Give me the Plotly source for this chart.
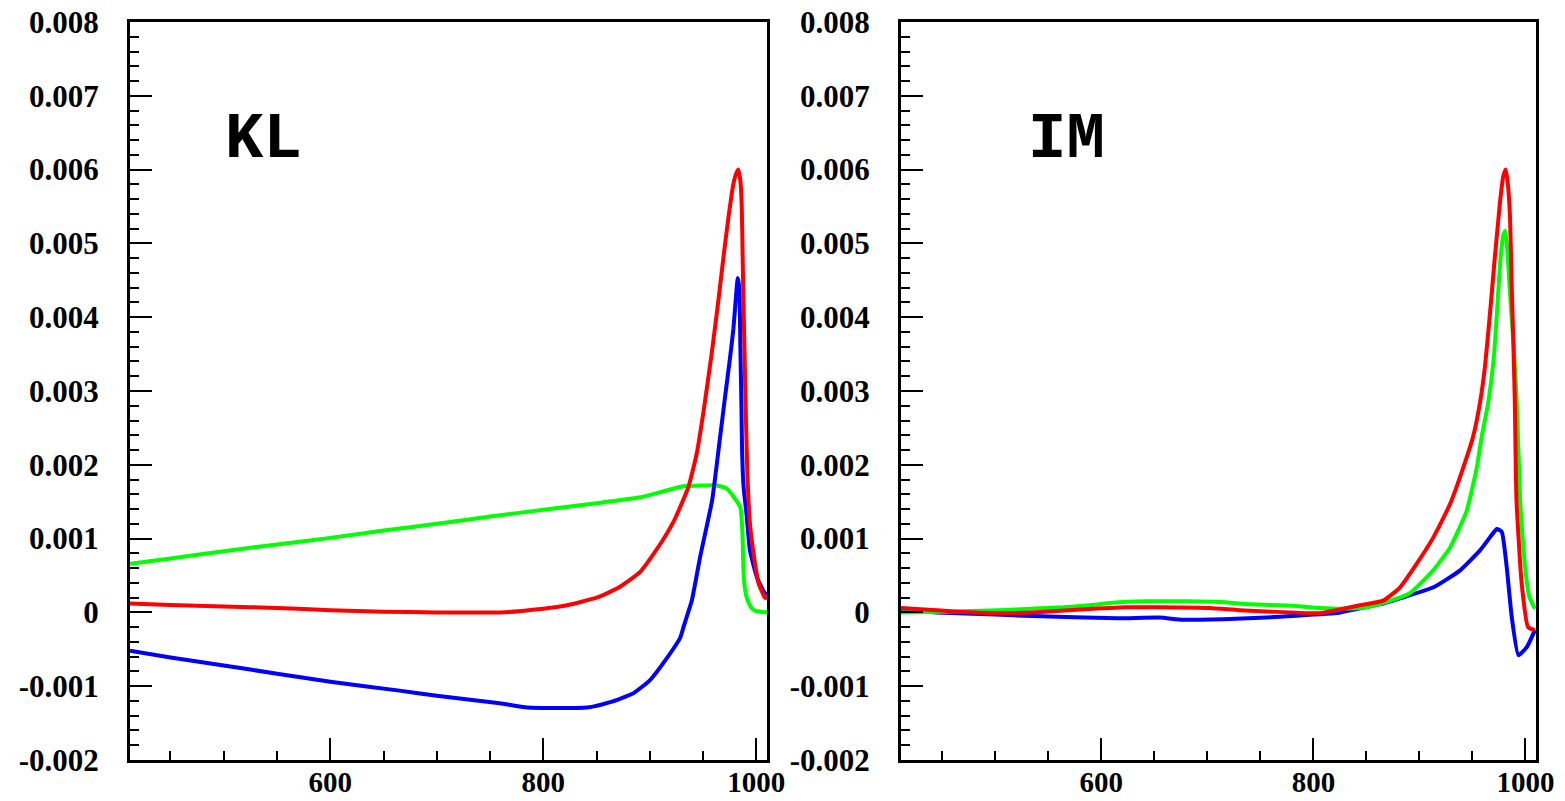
import plotly.graph_objects as go

# ---------------- data: KL panel ----------------
kl_green_x = [412, 450, 500, 550, 600, 650, 700, 750, 800, 850, 891, 910, 931, 950, 963, 972, 979, 985,
              986.5, 987.3, 987.8, 989, 991, 995, 999, 1004, 1010]
kl_green_y = [0.00066, 0.00073, 0.00083, 0.00092, 0.00101, 0.00111, 0.00120, 0.00130, 0.00139, 0.00148,
              0.00156, 0.00163, 0.00171, 0.00172, 0.00172, 0.00168, 0.00156, 0.00142,
              0.00120, 0.00090, 0.00060, 0.00035, 0.00020, 0.00007, 0.00002, 0.00001, 0.0]

kl_red_x = [412, 450, 500, 550, 600, 650, 700, 760, 780, 800, 820, 850, 870, 891, 910, 923, 936, 944, 951,
            958, 964.4, 969.1, 973.8, 978.5, 981.5, 983.2, 985, 986.3, 987.2, 987.9, 989.5, 991.4, 994,
            997, 1002, 1008, 1010]
kl_red_y = [0.00012, 0.00010, 0.00008, 0.00006, 0.00003, 0.00001, 0.0, 0.0, 0.00002, 0.00005, 0.00009,
            0.00020, 0.00033, 0.00055, 0.00093, 0.00125, 0.00169, 0.00215, 0.00278,
            0.00350, 0.00423, 0.00481, 0.00535, 0.00581, 0.00596, 0.00600, 0.00585, 0.00550, 0.00477,
            0.00423, 0.00310, 0.00196, 0.00120, 0.00084, 0.00040, 0.00020, 0.00019]

kl_blue_x = [412, 450, 500, 550, 600, 665, 700, 759, 785, 841, 862, 884, 900, 915, 928.6, 932, 939.4,
             947.2, 958.5, 966, 970.7, 975.4, 978.5, 981, 982.5, 984, 985, 986, 986.6, 988, 991, 994,
             1000.7, 1008, 1010]
kl_blue_y = [-0.00052, -0.00061, -0.00072, -0.00083, -0.00094, -0.00106, -0.00113, -0.00123, -0.00129,
             -0.00129, -0.00122, -0.00110, -0.00092, -0.00064, -0.00034, -0.00018, 0.00016,
             0.00075, 0.00152, 0.00238, 0.00293, 0.00346, 0.00385, 0.00430, 0.00453, 0.00440, 0.00360,
             0.00280, 0.00220, 0.00170, 0.00130, 0.00084, 0.00047, 0.00026, 0.00025]

# ---------------- data: IM panel ----------------
im_green_x = [411, 450, 504, 533, 564, 591, 610, 643, 680, 712, 740, 780, 806, 825, 850, 866, 891, 913,
              929, 944.7, 954.2, 959, 965, 970.2, 973.3, 976.4, 979, 981, 983, 986, 989, 992, 995,
              999.7, 1004, 1009]
im_green_y = [0.0, 0.00001, 0.00003, 0.00005, 0.00007, 0.00010, 0.00013, 0.00015, 0.00015, 0.00014,
              0.00011, 0.00009, 0.00006, 0.00005, 0.00007, 0.00013, 0.00026, 0.00057,
              0.00088, 0.00138, 0.00197, 0.00240, 0.00285, 0.00346, 0.00409, 0.00477, 0.00510, 0.00517,
              0.00490, 0.00420, 0.00360, 0.00280, 0.00152, 0.00061, 0.00020, 0.00005]

im_red_x = [411, 433, 464, 500, 535, 580, 624, 655, 702, 730, 760, 806, 825, 845, 866, 881.8, 897.5, 913.3,
            929, 944.6, 951, 957.5, 962, 966.6, 971.3, 976, 979, 981.4, 983.5, 985.5, 987, 988.4, 990,
            991.6, 996.5, 1002.5, 1009]
im_red_y = [0.00006, 0.00004, 0.00001, -0.00001, 0.0, 0.00004, 0.00007, 0.00007, 0.00006, 0.00003,
            0.00001, -0.00001, 0.00004, 0.00010, 0.00016, 0.00034, 0.00066, 0.00102,
            0.00147, 0.00210, 0.00240, 0.00287, 0.00335, 0.00405, 0.00483, 0.00555, 0.00590, 0.00600,
            0.00580, 0.00535, 0.00446, 0.00378, 0.00287, 0.00152, 0.00039, -0.00020, -0.00024]

im_blue_x = [411, 420, 444, 500, 535, 615, 655, 677, 721, 768, 800, 822, 835, 866, 881.8, 913.3, 938.4,
             957.2, 966.7, 973, 977.7, 982.4, 987.1, 993.4, 1001.3, 1009]
im_blue_y = [0.00003, 0.00003, 0.0, -0.00003, -0.00005, -0.00008, -0.00007, -0.00010, -0.00009, -0.00006,
             -0.00003, -0.00001, 0.00003, 0.00012, 0.00019, 0.00034, 0.00057,
             0.00084, 0.00102, 0.00113, 0.00109, 0.00061, -0.00006, -0.00058, -0.00047, -0.00024]

panel_labels = ["KL", "IM"]
y_tickvals = [-0.002, -0.001, 0, 0.001, 0.002, 0.003, 0.004, 0.005, 0.006, 0.007, 0.008]
y_ticktext = ["-0.002", "-0.001", "0", "0.001", "0.002", "0.003", "0.004", "0.005", "0.006", "0.007", "0.008"]
x_tickvals = [600, 800, 1000]
x_ticktext = ["600", "800", "1000"]

RED, GREEN, BLUE = "#ff0000", "#00ff00", "#0000ff"
LW = 4

fig = go.Figure()
series = [
    (kl_green_x, kl_green_y, GREEN, "x", "y"),
    (kl_blue_x, kl_blue_y, BLUE, "x", "y"),
    (kl_red_x, kl_red_y, RED, "x", "y"),
    (im_blue_x, im_blue_y, BLUE, "x2", "y2"),
    (im_green_x, im_green_y, GREEN, "x2", "y2"),
    (im_red_x, im_red_y, RED, "x2", "y2"),
]
for xs, ys, col, xa, ya in series:
    fig.add_trace(go.Scatter(x=xs, y=ys, mode="lines", xaxis=xa, yaxis=ya,
                             line=dict(color=col, width=LW, shape="spline", smoothing=0.45),
                             showlegend=False, hoverinfo="skip"))

W, H = 1565, 801
ytickfont = dict(family="Liberation Serif", size=31, color="black", weight="bold")
xtickfont = dict(family="Liberation Serif", size=29, color="black", weight="bold")

def xax(domain, rng, anchor):
    return dict(domain=domain, range=rng, anchor=anchor, showgrid=False, zeroline=False,
                showline=True, linecolor="black", linewidth=3, mirror=True,
                tickvals=x_tickvals, ticktext=x_ticktext, ticks="inside", ticklen=22,
                tickwidth=2, tickcolor="black", tickfont=xtickfont, ticklabelstandoff=-6,
                minor=dict(ticks="inside", ticklen=9, tickwidth=2, tickcolor="black",
                           dtick=50, tick0=0),
                automargin=False)

def yax(domain, anchor):
    return dict(domain=domain, range=[-0.002, 0.008], anchor=anchor, showgrid=False, zeroline=False,
                showline=True, linecolor="black", linewidth=3, mirror=True,
                tickvals=y_tickvals, ticktext=y_ticktext, ticks="inside", ticklen=22,
                tickwidth=2, tickcolor="black", tickfont=ytickfont, ticklabelstandoff=22,
                minor=dict(ticks="inside", ticklen=9, tickwidth=2, tickcolor="black",
                           dtick=0.0002, tick0=0),
                automargin=False)

ydom = [1 - 760 / H, 1 - 22 / H]
labfont = dict(family="Liberation Mono", size=64, color="black", weight="bold")
fig.update_layout(
    width=W, height=H,
    margin=dict(l=0, r=0, t=0, b=0),
    paper_bgcolor="white", plot_bgcolor="white",
    xaxis=xax([130 / W, 767 / W], [412, 1010], "y"),
    yaxis=yax(ydom, "x"),
    xaxis2=xax([901 / W, 1536 / W], [411, 1010], "y2"),
    yaxis2=yax(ydom, "x2"),
    annotations=[
        dict(text=panel_labels[0], x=263 / W, y=1 - 140 / H, xref="paper", yref="paper",
             xanchor="center", yanchor="middle", showarrow=False, font=labfont),
        dict(text=panel_labels[1], x=1066 / W, y=1 - 140 / H, xref="paper", yref="paper",
             xanchor="center", yanchor="middle", showarrow=False, font=labfont),
    ],
)

fig.write_html("out.html")
